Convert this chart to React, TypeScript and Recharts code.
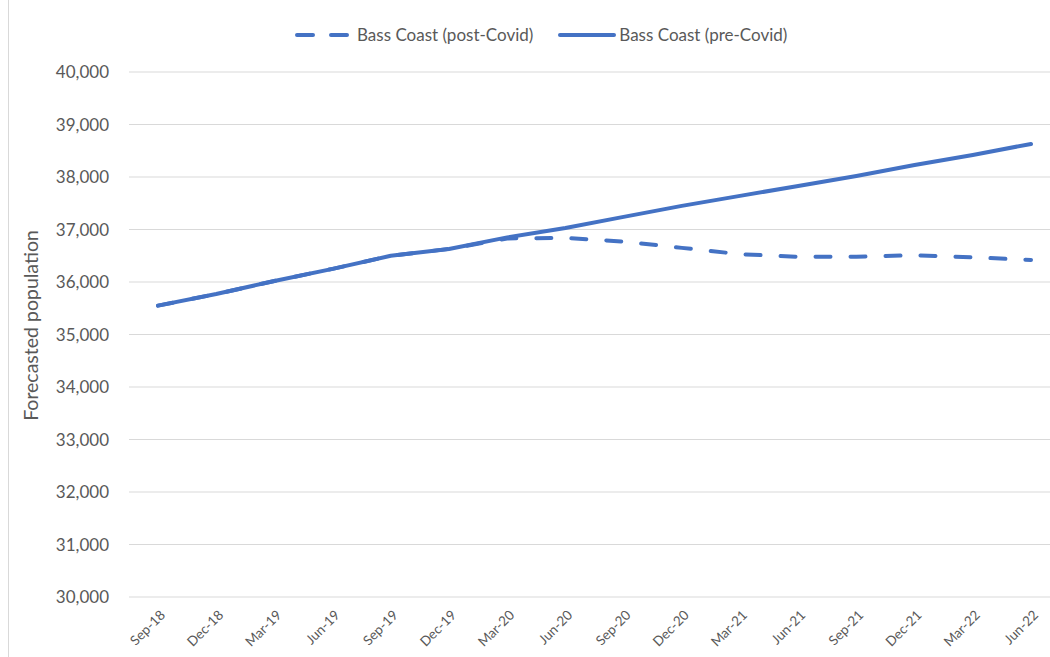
import React from 'react';
import { LineChart, Line, XAxis, YAxis, CartesianGrid, Legend } from 'recharts';

const quarters = [
  'Sep-18', 'Dec-18', 'Mar-19', 'Jun-19', 'Sep-19', 'Dec-19', 'Mar-20', 'Jun-20',
  'Sep-20', 'Dec-20', 'Mar-21', 'Jun-21', 'Sep-21', 'Dec-21', 'Mar-22', 'Jun-22',
];
const preCovid = [
  35550, 35770, 36020, 36250, 36500, 36630, 36850, 37030,
  37240, 37450, 37640, 37830, 38020, 38230, 38420, 38630,
];
const postCovid = [
  35550, 35770, 36020, 36250, 36500, 36630, 36830, 36840,
  36770, 36650, 36530, 36480, 36480, 36510, 36470, 36420,
];
const yTicks = [30000, 31000, 32000, 33000, 34000, 35000, 36000, 37000, 38000, 39000, 40000];

const data = quarters.map((q, i) => ({ q, pre: preCovid[i], post: postCovid[i] }));

const BLUE = '#4472C4';
const TEXT = '#595959';
const FONT = 'Lato, "Liberation Sans", sans-serif';

// rotated quarter labels, like Excel's -45° axis text
const XTick = (props: any) => {
  const { x, y, payload } = props;
  return (
    <g transform={`translate(${x + 8},${y + 19}) rotate(-45)`}>
      <text x={0} y={0} textAnchor="end" fontSize={13.5} fill={TEXT} fontFamily={FONT}>
        {payload.value}
      </text>
    </g>
  );
};

const renderLegend = () => (
  <div style={{ display: 'flex', alignItems: 'center', marginLeft: 294, fontFamily: FONT, fontSize: 17, color: TEXT }}>
    <svg width={60} height={10}>
      <line x1={3} y1={5} x2={57} y2={5} stroke={BLUE} strokeWidth={4} strokeDasharray="16 18" strokeLinecap="round" />
    </svg>
    <span style={{ marginLeft: 3 }}>Bass Coast (post-Covid)</span>
    <svg width={60} height={10} style={{ marginLeft: 24 }}>
      <line x1={3} y1={5} x2={57} y2={5} stroke={BLUE} strokeWidth={4} strokeLinecap="round" />
    </svg>
    <span style={{ marginLeft: 2 }}>Bass Coast (pre-Covid)</span>
  </div>
);

export default function App() {
  return (
    <div style={{ position: 'absolute', left: 0, top: 0, width: 1050, height: 657, overflow: 'hidden', background: '#fff' }}>
      <div style={{ position: 'absolute', left: 8, top: 0, width: 1, height: 657, background: '#d9d9d9' }} />
      <LineChart width={1070} height={657} data={data} margin={{ top: 72, right: 10, bottom: 0, left: 0 }}>
        <CartesianGrid vertical={false} stroke="#d9d9d9" strokeWidth={1.2} />
        <XAxis
          dataKey="q"
          interval={0}
          axisLine={false}
          tickLine={false}
          tickSize={0}
          tickMargin={0}
          height={60}
          padding={{ left: 29, right: 29 }}
          tick={<XTick />}
        />
        <YAxis
          domain={[30000, 40000]}
          ticks={yTicks}
          width={129}
          axisLine={false}
          tickLine={false}
          tickMargin={14}
          tickFormatter={(v: number) => v.toLocaleString('en-US')}
          tick={{ fontSize: 17, fill: TEXT, fontFamily: FONT }}
          label={{
            value: 'Forecasted population',
            angle: -90,
            position: 'insideLeft',
            offset: 0,
            dx: 31,
            dy: -9,
            style: { textAnchor: 'middle', fontSize: 19.5, fill: TEXT, fontFamily: FONT },
          }}
        />
        <Legend verticalAlign="middle" align="center" content={renderLegend} wrapperStyle={{ top: 24, left: 0, width: 1050 }} />
        <Line
          type="linear"
          dataKey="post"
          name="Bass Coast (post-Covid)"
          stroke={BLUE}
          strokeWidth={4}
          strokeDasharray="15 20"
          strokeLinecap="round"
          strokeLinejoin="round"
          dot={false}
          isAnimationActive={false}
        />
        <Line
          type="linear"
          dataKey="pre"
          name="Bass Coast (pre-Covid)"
          stroke={BLUE}
          strokeWidth={4}
          strokeLinecap="round"
          strokeLinejoin="round"
          dot={false}
          isAnimationActive={false}
        />
      </LineChart>
    </div>
  );
}
